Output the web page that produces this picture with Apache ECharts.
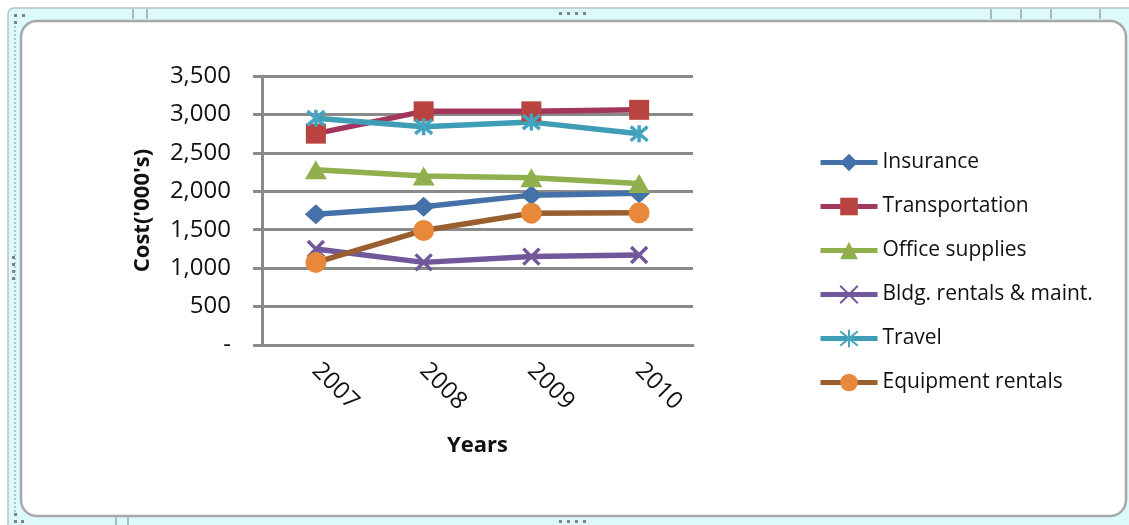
<!DOCTYPE html>
<html>
<head>
<meta charset="utf-8">
<title>Cost by category, 2007–2010</title>
<script src="https://cdn.jsdelivr.net/npm/echarts@6/dist/echarts.min.js"></script>
<style>
  html, body { margin: 0; padding: 0; background: #ffffff; }
  #chart { width: 1129px; height: 525px; }
</style>
</head>
<body>
<div id="chart"></div>
<script>
// Years on the category axis
const years = ['2007', '2008', '2009', '2010'];

// Cost per year, in thousands
const insurance      = [1700, 1800, 1950, 1975];
const transportation = [2750, 3040, 3040, 3060];
const officeSupplies = [2280, 2200, 2175, 2100];
const bldgRentals    = [1250, 1075, 1150, 1170];
const travel         = [2950, 2840, 2900, 2750];
const equipment      = [1075, 1490, 1715, 1720];

// Value axis ticks
const yTicks = [0, 500, 1000, 1500, 2000, 2500, 3000, 3500];

const AXIS_GREY = '#8a8a8a';
const FONT = '"Open Sans", "Noto Sans", sans-serif';

const CROSS = 'path://M0,0L10,10M10,0L0,10';
const ASTERISK = 'path://M0,0L10,10M10,0L0,10M5,-1L5,11';

function lineSeries(name, data, lineColor, markerColor, symbol, size, stroked) {
  return {
    name: name,
    type: 'line',
    data: data,
    symbol: symbol,
    symbolSize: size,
    showAllSymbol: true,
    lineStyle: { color: lineColor, width: 5.5 },
    itemStyle: stroked
      ? { color: markerColor, borderColor: markerColor, borderWidth: 3.5 }
      : { color: markerColor, borderWidth: 0 },
    emphasis: { disabled: true },
    z: 3
  };
}

// Excel-style chart frame around the plot
const frame = [
  { type: 'rect', z: -20, shape: { x: 8, y: 8, width: 1140, height: 530, r: 6 },
    style: { fill: '#dcfafb', stroke: '#b4c4c6', lineWidth: 1.5 } },
  { type: 'rect', z: -19, shape: { x: 21, y: 21, width: 1105, height: 495, r: 16 },
    style: { fill: '#ffffff', stroke: '#a8a8a8', lineWidth: 2.5 } },
  { type: 'line', z: -18, shape: { x1: 15, y1: 22, x2: 15, y2: 512 },
    style: { stroke: '#7f8f90', lineWidth: 1, lineDash: [2, 2] } }
];
// ruler marks in the frame band
[133, 147, 991, 1021, 1051, 1100].forEach(function (x) {
  frame.push({ type: 'line', z: -18, shape: { x1: x, y1: 9, x2: x, y2: 19 },
    style: { stroke: '#7a7a7a', lineWidth: 1 } });
});
[116, 128].forEach(function (x) {
  frame.push({ type: 'line', z: -18, shape: { x1: x, y1: 517, x2: x, y2: 525 },
    style: { stroke: '#7a7a7a', lineWidth: 1 } });
});
// resize grips
[559, 567, 575, 583].forEach(function (x) {
  frame.push({ type: 'rect', z: -18, shape: { x: x, y: 12, width: 3, height: 3 }, style: { fill: '#808080' } });
  frame.push({ type: 'rect', z: -18, shape: { x: x, y: 520, width: 3, height: 3 }, style: { fill: '#808080' } });
});
[256, 263, 270, 277].forEach(function (y) {
  frame.push({ type: 'rect', z: -18, shape: { x: 12, y: y, width: 3, height: 3 }, style: { fill: '#808080' } });
});
[[14, 14], [22, 14], [14, 21], [14, 513], [21, 520], [14, 520]].forEach(function (p) {
  frame.push({ type: 'rect', z: -18, shape: { x: p[0], y: p[1], width: 3, height: 3 }, style: { fill: '#808080' } });
});

const chart = echarts.init(document.getElementById('chart'), null, { renderer: 'canvas' });

chart.setOption({
  animation: false,
  backgroundColor: 'transparent',
  graphic: frame,
  grid: { left: 262, right: 436, top: 76, bottom: 180, containLabel: false },
  legend: {
    orient: 'vertical',
    left: 813,
    top: 147,
    itemWidth: 57,
    itemHeight: 22,
    itemGap: 23,
    selectedMode: false,
    lineStyle: { width: 5 },
    textStyle: { fontFamily: FONT, fontSize: 21, color: '#111111' },
    data: ['Insurance', 'Transportation', 'Office supplies', 'Bldg. rentals & maint.', 'Travel', 'Equipment rentals']
  },
  xAxis: {
    type: 'category',
    data: years,
    boundaryGap: true,
    name: 'Years',
    nameLocation: 'middle',
    nameGap: 90,
    nameTextStyle: { fontFamily: FONT, fontSize: 22, fontWeight: 'bold', color: '#111111' },
    axisLine: { show: true, lineStyle: { color: AXIS_GREY, width: 3 } },
    axisTick: { show: false },
    axisLabel: { rotate: -45, margin: 22, fontFamily: FONT, fontSize: 24, color: '#111111' }
  },
  yAxis: {
    type: 'value',
    min: yTicks[0],
    max: yTicks[yTicks.length - 1],
    interval: yTicks[1] - yTicks[0],
    name: "Cost('000's)",
    nameLocation: 'middle',
    nameGap: 108,
    nameTextStyle: { fontFamily: FONT, fontSize: 22, fontWeight: 'bold', color: '#111111' },
    axisLine: { show: true, lineStyle: { color: AXIS_GREY, width: 3 } },
    axisTick: { show: true, length: 9, lineStyle: { color: AXIS_GREY, width: 3 } },
    splitLine: { show: true, lineStyle: { color: AXIS_GREY, width: 3 } },
    axisLabel: {
      margin: 31,
      fontFamily: FONT,
      fontSize: 24,
      color: '#111111',
      formatter: function (v) { return v === 0 ? '-' : v.toLocaleString('en-US'); }
    }
  },
  series: [
    lineSeries('Insurance', insurance, '#4472a8', '#4472a8', 'diamond', [22, 20], false),
    lineSeries('Transportation', transportation, '#a3365f', '#b9443f', 'rect', 20, false),
    lineSeries('Office supplies', officeSupplies, '#8fb04d', '#8fb04d', 'triangle', [22, 19], false),
    lineSeries('Bldg. rentals & maint.', bldgRentals, '#71589a', '#71589a', CROSS, 16, true),
    lineSeries('Travel', travel, '#409db6', '#45a4bf', ASTERISK, 17, true),
    lineSeries('Equipment rentals', equipment, '#9a5f2f', '#e8883a', 'circle', 21, false)
  ]
});
</script>
</body>
</html>
